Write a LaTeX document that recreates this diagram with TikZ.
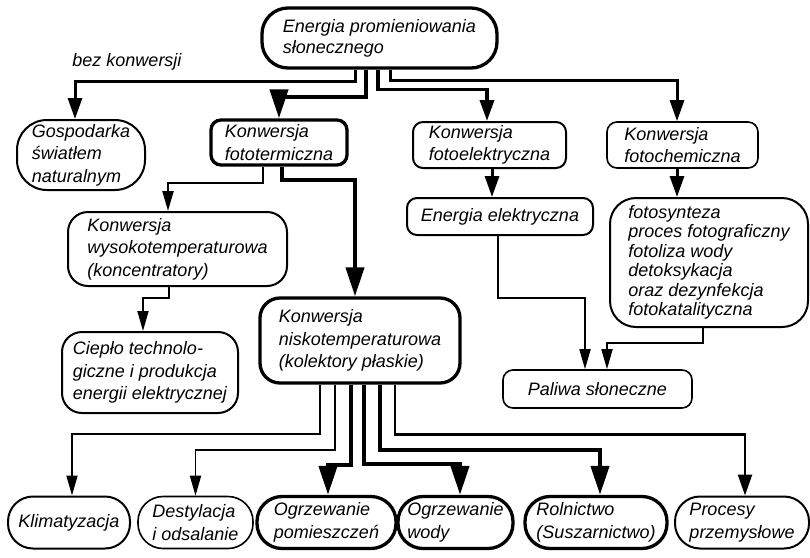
\documentclass[tikz,border=0pt]{standalone}
\usepackage{fontspec}
\setmainfont{Liberation Sans}
\usetikzlibrary{arrows.meta, positioning, calc}
\tikzset{
	box/.style={rectangle, rounded corners=10pt, draw=black, line width=2pt, align=left, inner sep=0pt, font={\fontsize{18}{22.5}\selectfont\itshape}},
	boldbox/.style={box, line width=3.3pt},
	pill/.style={box, rounded corners=25pt, minimum height=52pt},
	boldpill/.style={pill, line width=3.3pt},
	remark/.style={inner sep=0pt, font={\fontsize{18}{22.5}\selectfont\itshape}},
	% connectors
	thinarrow/.style={-{Triangle[length=20pt,width=11pt]}, line width=1.8pt},
	midarrow/.style={-{Triangle[length=21pt,width=14pt]}, line width=3pt},
	thickarrow/.style={-{Triangle[length=29pt,width=18pt]}, line width=4.2pt},
}
\begin{document}
\begin{tikzpicture}[x=1pt, y=-1pt]
	\useasboundingbox (0,0) rectangle (810,557);
	\node[boldbox, rounded corners=26pt, minimum width=235pt, minimum height=60pt, font={\fontsize{18}{21}\selectfont\itshape}] (sun) at (379.5,38) {Energia promieniowania\\słonecznego};
	\node[remark] (nolabel) at (127,62) {bez konwersji};
	\node[box, rounded corners=30pt, minimum width=128pt, minimum height=70pt] (light) at (81,155) {Gospodarka\\światłem\\naturalnym};
	\node[boldbox, minimum width=136pt, minimum height=45pt] (thermal) at (279,142.5) {Konwersja\\fototermiczna};
	\node[box, minimum width=153pt, minimum height=46pt] (pv) at (489.5,145) {Konwersja\\fotoelektryczna};
	\node[box, line width=1.6pt, minimum width=151pt, minimum height=46pt] (chem) at (682.5,145) {Konwersja\\fotochemiczna};
	\node[box, minimum width=186pt, minimum height=37pt] (elec) at (500,216.5) {Energia elektryczna};
	\node[box, rounded corners=26pt, minimum width=198pt, minimum height=129pt, font={\fontsize{18}{19.5}\selectfont\itshape}] (photo) at (709,262.5) {fotosynteza\\proces fotograficzny\\fotoliza wody\\detoksykacja\\oraz dezynfekcja\\fotokatalityczna};
	\node[box, line width=1.6pt, minimum width=189pt, minimum height=38pt] (fuel) at (597.5,389) {Paliwa słoneczne};
	\node[box, rounded corners=20pt, minimum width=219pt, minimum height=74pt] (high) at (177.5,249) {Konwersja\\wysokotemperaturowa\\(koncentratory)};
	\node[box, rounded corners=20pt, minimum width=176pt, minimum height=81pt] (heat) at (150,372.5) {Ciepło technolo-\\giczne i produkcja\\energii elektrycznej};
	\node[boldbox, rounded corners=20pt, minimum width=200pt, minimum height=85pt] (low) at (360,340.5) {Konwersja\\niskotemperaturowa\\(kolektory płaskie)};
	% bottom row
	\node[pill, minimum width=122pt] (cool) at (69,522.5) {Klimatyzacja};
	\node[pill, line width=1.6pt, minimum width=115pt] (dist) at (195.5,522.5) {Destylacja\\i odsalanie};
	\node[boldpill, minimum width=139pt] (room) at (326.5,522.5) {Ogrzewanie\\pomieszczeń};
	\node[boldpill, minimum width=115pt] (water) at (455.5,522.5) {Ogrzewanie\\wody};
	\node[boldpill, minimum width=142pt] (agri) at (596,522.5) {Rolnictwo\\(Suszarnictwo)};
	\node[pill, minimum width=134pt] (ind) at (742,522.5) {Procesy\\przemysłowe};
	% from the sun
	\draw[midarrow] ([xshift=-24.5pt]sun.south) -- ++(0,12) -| ([xshift=-6pt]light.north);
	\draw[thickarrow] ([xshift=-13.5pt]sun.south) -- ++(0,27) -| (thermal.north);
	\draw[midarrow, line width=3.5pt] ([xshift=-1.5pt]sun.south) -- ++(0,20) -| ([xshift=-2.5pt]pv.north);
	\draw[midarrow] ([xshift=10.5pt]sun.south) -- ++(0,11) -| ([xshift=-5.5pt]chem.north);
	\draw[thinarrow, line width=2.2pt] ([xshift=-16pt]thermal.south) -- ++(0,16) -| ([xshift=-9.5pt]high.north);
	\draw[thickarrow] ([xshift=3pt]thermal.south) -- ++(0,13) -| ([xshift=-5pt]low.north);
	\draw[midarrow] ([xshift=2.5pt]pv.south) -- ([xshift=-8pt]elec.north);
	\draw[midarrow] ([xshift=-5.5pt]chem.south) -- ([xshift=-32pt]photo.north);
	\draw[thinarrow] ([xshift=-2pt]elec.south) -- ++(0,62) -| ([xshift=-12.5pt]fuel.north);
	\draw[thinarrow] ([xshift=-6pt]photo.south) -- ++(0,15) -| ([xshift=9.5pt]fuel.north);
	\draw[thinarrow] ([xshift=-8.5pt]high.south) -- ++(0,11) -| ([xshift=-7pt]heat.north);
	% low temperature uses
	\draw[thinarrow] ([xshift=-40pt]low.south) -- ++(0,49) -| ([xshift=3pt]cool.north);
	\draw[thinarrow] ([xshift=-25pt]low.south) -- ++(0,65) -| (dist.north);
	\draw[thickarrow] ([xshift=-9pt]low.south) -- ++(0,80) -| ([xshift=1.5pt]room.north);
	\draw[thickarrow] ([xshift=4pt]low.south) -- ++(0,79) -| ([xshift=4.5pt]water.north);
	\draw[thickarrow] ([xshift=20pt]low.south) -- ++(0,65) -| ([xshift=4pt]agri.north);
	\draw[midarrow, line width=2.4pt] ([xshift=35pt]low.south) -- ++(0,50) -| ([xshift=3pt]ind.north);
\end{tikzpicture}
\end{document}
